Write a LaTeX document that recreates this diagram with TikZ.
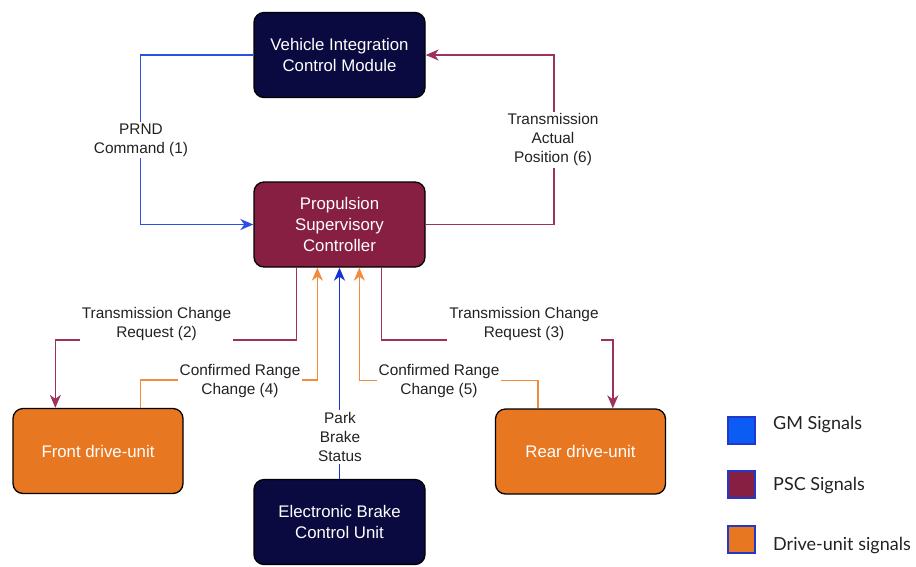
\documentclass[tikz,border=0pt]{standalone}
\usepackage{fontspec}
\setmainfont{Liberation Sans}
\newfontfamily\legendfont{Lato}
\usetikzlibrary{arrows.meta,calc}

\definecolor{navyfill}{HTML}{0A0A40}
\definecolor{pscfill}{HTML}{861F41}
\definecolor{dufill}{HTML}{E87722}
\definecolor{gmwire}{HTML}{2E4FE4}
\definecolor{ebwire}{HTML}{1631D2}
\definecolor{pscwire}{HTML}{9E325E}
\definecolor{duwire}{HTML}{F28C3C}
\definecolor{gmkey}{HTML}{0A5CF5}
\definecolor{keyedge}{HTML}{2238C8}
\definecolor{labeltext}{HTML}{222222}

\tikzset{
  unit/.style={draw=black, line width=1.3pt, rounded corners=10pt,
    minimum width=171pt, minimum height=85pt, align=center, text=white,
    font=\fontsize{16.8}{21}\selectfont, inner sep=0pt},
  ecu/.style={unit, fill=navyfill},
  pscbox/.style={unit, fill=pscfill},
  dubox/.style={unit, fill=dufill, minimum width=170pt},
  wire/.style={line width=1.7pt, -{Stealth[length=13pt,width=11pt,inset=4pt]}},
  gm/.style={wire, draw=gmwire},
  eb/.style={wire, draw=ebwire},
  psc/.style={wire, draw=pscwire},
  du/.style={wire, draw=duwire},
  lbl/.style={fill=white, text=labeltext, align=center, inner sep=2pt,
    font=\fontsize{15.4}{19}\selectfont},
  keysq/.style={draw=keyedge, line width=2pt, minimum size=27pt, inner sep=0pt},
  keytxt/.style={anchor=west, text=labeltext, inner sep=0pt,
    font=\legendfont\fontsize{18}{20}\selectfont},
}

\begin{document}
\begin{tikzpicture}[x=1pt, y=-1pt]
\useasboundingbox (0,0) rectangle (916,566);

% control units
\node[ecu]    (vicm)  at (339.5,55)   {Vehicle Integration\\Control Module};
\node[pscbox] (psc)   at (339.5,224.5){Propulsion\\Supervisory\\Controller};
\node[dubox]  (front) at (98,451)     {Front drive-unit};
\node[dubox]  (rear)  at (580.5,451.5){Rear drive-unit};
\node[ecu]    (ebcu)  at (339.5,522)  {Electronic Brake\\Control Unit};

% GM signals
\draw[gm] (vicm.west) -- ++(-113,0) |- (psc.west);
\node[lbl] (prnd) at (141,140) {PRND\\Command (1)};
\draw[eb] (ebcu.north) -- (psc.south);
\node[lbl] (pbs) at (340,437) {Park\\Brake\\Status};

% PSC signals
\draw[psc] (psc.east) -- ++(128,0) |- (vicm.east);
\node[lbl] (tap) at (553,140) {Transmission\\Actual\\Position (6)};
\draw[psc] ([xshift=43pt]psc.south west) -- ++(0,72) -| ([xshift=43pt]front.north west);
\node[lbl] (tcr2) at (156.5,324) {Transmission Change\\Request (2)};
\draw[psc] ([xshift=128pt]psc.south west) -- ++(0,72) -| ([xshift=118pt]rear.north west);
\node[lbl] (tcr3) at (524,324) {Transmission Change\\Request (3)};

% drive-unit signals
\draw[du] ([xshift=128pt]front.north west) -- ++(0,-28) -| ([xshift=64pt]psc.south west);
\node[lbl] (crc4) at (240,381) {Confirmed Range\\Change (4)};
\draw[du] ([xshift=43pt]rear.north west) -- ++(0,-28) -| ([xshift=106pt]psc.south west);
\node[lbl] (crc5) at (439,381) {Confirmed Range\\Change (5)};

% legend
\node[keysq, fill=gmkey]  (kgm)  at (741,430.5) {};
\node[keysq, fill=pscfill] (kpsc) at (741,484.5) {};
\node[keysq, fill=dufill]  (kdu)  at (741,539.5) {};
\node[keytxt] (tgm)  at (773,425) {GM Signals};
\node[keytxt] (tpsc) at (773,486) {PSC Signals};
\node[keytxt] (tdu)  at (773,546) {Drive-unit signals};
\end{tikzpicture}
\end{document}
